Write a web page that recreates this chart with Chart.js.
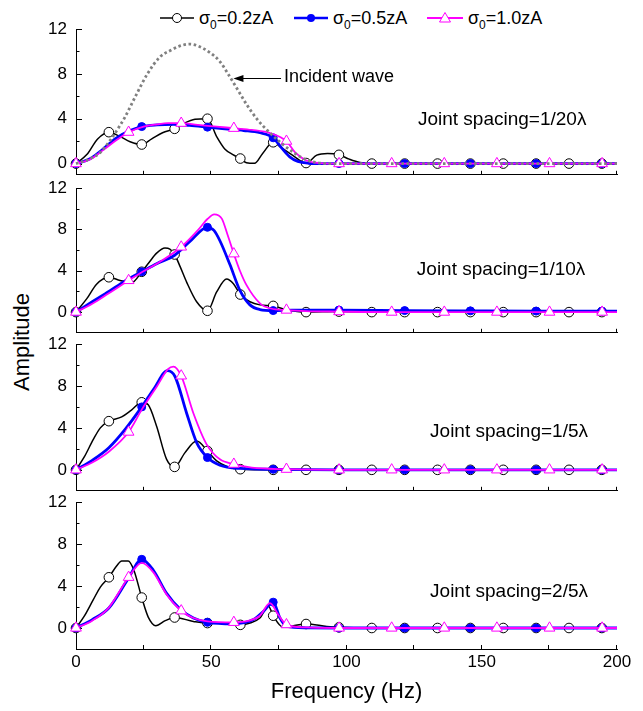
<!DOCTYPE html>
<html>
<head>
<meta charset="utf-8">
<title>Amplitude vs frequency</title>
<script src="https://cdn.jsdelivr.net/npm/chart.js@4.4.1/dist/chart.umd.min.js"></script>
<style>
  html, body { margin: 0; padding: 0; background: #fff; }
  #figure { position: relative; width: 643px; height: 711px; overflow: hidden; font-family: "Liberation Sans", Arial, sans-serif; color: #000; }
  #figure canvas { position: absolute; left: 0; }
  .legend-item { position: absolute; top: 7px; height: 22px; display: flex; align-items: center; font-size: 18px; white-space: nowrap; }
  .legend-item svg { margin-right: 5px; }
  .legend-item sub { font-size: 12px; vertical-align: -5px; line-height: 0; }
  #ytitle { position: absolute; left: 22px; top: 342px; transform: translate(-50%, -50%) rotate(-90deg); font-size: 22px; white-space: nowrap; }
</style>
</head>
<body>
<div id="figure">
  <div class="legend-item" style="left:160px">
    <svg width="34" height="16"><line x1="0" y1="8" x2="34" y2="8" stroke="#000" stroke-width="1.5"/><circle cx="17" cy="8" r="4.5" fill="#fff" stroke="#000" stroke-width="1"/></svg>
    <span>σ<sub>0</sub>=0.2zA</span>
  </div>
  <div class="legend-item" style="left:294px">
    <svg width="34" height="16"><line x1="0" y1="8" x2="34" y2="8" stroke="#0000ff" stroke-width="2.6"/><circle cx="17" cy="8" r="4" fill="#0000ff"/></svg>
    <span>σ<sub>0</sub>=0.5zA</span>
  </div>
  <div class="legend-item" style="left:427px">
    <svg width="36" height="16"><line x1="0" y1="8" x2="36" y2="8" stroke="#ff00ff" stroke-width="1.8"/><polygon points="18,2.5 23.5,12 12.5,12" fill="#fff" stroke="#ff00ff" stroke-width="1"/></svg>
    <span>σ<sub>0</sub>=1.0zA</span>
  </div>
  <div id="ytitle">Amplitude</div>
</div>

<script>
// ============================================
// DATA
// ============================================
const X_TICKS = [0, 50, 100, 150, 200]
const Y_TICKS = [0, 4, 8, 12]

// marker frequencies of each series
const MARKS_02 = [0, 12.15, 24.3, 36.45, 48.6, 60.75, 72.9, 85.05, 97.2, 109.35, 121.5, 133.65, 145.8, 157.95, 170.1, 182.25, 194.4]
const MARKS_05 = [0, 24.3, 48.6, 72.9, 97.2, 121.5, 145.8, 170.1, 194.4]
const MARKS_10 = [0, 19.45, 38.9, 58.35, 77.8, 97.25, 116.7, 136.15, 155.6, 175.05, 194.5]

const NOTES = ['Joint spacing=1/20λ', 'Joint spacing=1/10λ', 'Joint spacing=1/5λ', 'Joint spacing=2/5λ']

// Joint spacing = 1/20 lambda
const p1IncF = [0, 4, 9, 13, 16, 18, 22, 26.4, 31, 35, 38, 42, 45, 49.5, 53.2, 56.2, 60, 63, 66.8, 71, 76, 81, 85, 89, 95, 200]
const p1IncA = [0, 0.3, 1.0, 2.2, 3.3, 4.1, 6.0, 8.0, 9.5, 10.1, 10.45, 10.65, 10.5, 9.9, 9.1, 8.0, 6.5, 5.3, 4.0, 2.9, 1.8, 0.9, 0.35, 0.08, 0, 0]

const p1F02 = [0, 4, 8, 12.15, 16, 20, 24.3, 28, 32, 36.45, 40, 44, 48.6, 52, 55, 58, 60.75, 63, 66, 69, 72.9, 76, 80, 85.05, 89, 93, 97.2, 101, 105, 109.35, 121.5, 133.65, 145.8, 157.95, 170.1, 182.25, 194.4, 200]
const p1A02 = [0, 0.8, 2.2, 2.8, 2.45, 1.95, 1.7, 2.2, 2.75, 3.1, 3.6, 3.95, 4.0, 2.4, 1.3, 0.8, 0.45, 0.08, 0.02, 0.9, 1.9, 1.4, 0.75, 0.05, 0.75, 0.9, 0.78, 0.4, 0.1, 0, 0, 0, 0, 0, 0, 0, 0, 0]
const p1F05 = [0, 5, 10, 15, 20, 24.3, 30, 36, 42, 48.6, 55, 62, 68, 72.9, 76, 79, 82, 86, 90, 97.2, 121.5, 145.8, 170.1, 194.4, 200]
const p1A05 = [0, 0.4, 1.3, 2.3, 2.95, 3.3, 3.45, 3.5, 3.4, 3.25, 3.1, 2.95, 2.75, 2.3, 1.4, 0.6, 0.2, 0.03, 0, 0, 0, 0, 0, 0, 0]
const p1F10 = [0, 5, 10, 15, 19.45, 25, 30, 34, 38.9, 45, 52, 58.35, 65, 72, 77.8, 81, 85, 90, 97.25, 116.7, 136.15, 155.6, 175.05, 194.5, 200]
const p1A10 = [0, 0.35, 1.2, 2.1, 2.8, 3.3, 3.5, 3.6, 3.6, 3.45, 3.3, 3.15, 3.0, 2.7, 2.0, 1.0, 0.3, 0.05, 0, 0, 0, 0, 0, 0, 0]

// Joint spacing = 1/10 lambda
const p2F02 = [0, 4, 7.6, 12.15, 16.3, 20.6, 24.3, 27, 29.8, 32.9, 34.7, 36.45, 38.5, 40.9, 44.6, 48.6, 52, 55.7, 58.2, 60.75, 64.3, 68, 72.9, 77.9, 85.05, 97.2, 109.35, 121.5, 133.65, 145.8, 157.95, 170.1, 182.25, 194.4, 200]
const p2A02 = [0, 1.3, 2.7, 3.37, 3.06, 2.85, 3.9, 4.8, 5.7, 6.2, 6.1, 5.57, 4.4, 2.9, 1.0, 0.13, 1.95, 3.2, 2.74, 1.7, 1.0, 0.7, 0.6, 0.22, 0, 0.05, 0, 0, 0, 0, 0, 0, 0, 0, 0]
const p2F05 = [0, 6, 12.15, 18, 24.3, 30, 36.45, 42, 48.6, 51, 53.2, 56.9, 60.6, 64.3, 68, 72.9, 80, 97.2, 121.5, 145.8, 170.1, 194.4, 200]
const p2A05 = [0, 1.0, 2.0, 3.0, 3.9, 4.7, 5.5, 6.8, 8.2, 7.9, 6.9, 4.6, 2.1, 0.7, 0.25, 0.15, 0.2, 0.2, 0.15, 0.12, 0.1, 0.1, 0.1]
const p2F10 = [0, 6, 12, 19.45, 24.3, 30, 38.9, 45, 48.6, 51.1, 53.9, 56, 58.35, 60.6, 63.1, 68, 72, 77.8, 85, 97.25, 116.7, 136.15, 155.6, 175.05, 194.5, 200]
const p2A10 = [0, 0.8, 1.8, 3.06, 3.85, 4.7, 6.3, 7.9, 9.0, 9.45, 9.04, 7.5, 5.64, 4.0, 2.58, 0.85, 0.35, 0.2, 0.1, 0.05, 0, 0, 0, 0, 0, 0]

// Joint spacing = 1/5 lambda
const p3F02 = [0, 3, 6.4, 9, 12.15, 16.9, 20.5, 24.3, 26.7, 29.8, 33.5, 36.45, 40.3, 44.6, 48.6, 52, 56, 60.75, 72.9, 85.05, 97.2, 109.35, 121.5, 133.65, 145.8, 157.95, 170.1, 182.25, 194.4, 200]
const p3A02 = [0, 1.2, 2.9, 4.0, 4.64, 5.05, 5.7, 6.44, 6.2, 4.16, 1.0, 0.28, 1.64, 2.74, 1.8, 0.85, 0.3, 0.06, 0, 0, 0, 0, 0, 0, 0, 0, 0, 0, 0, 0]
const p3F05 = [0, 6, 12.15, 18, 24.3, 29, 33.8, 36.6, 40.9, 44.6, 48.6, 53.2, 60.6, 72.9, 97.2, 121.5, 145.8, 170.1, 194.4, 200]
const p3A05 = [0, 0.9, 2.1, 3.8, 6.0, 7.8, 9.46, 8.9, 5.4, 2.6, 1.17, 0.44, 0.13, 0.05, 0, 0, 0, 0, 0, 0]
const p3F10 = [0, 6, 12, 19.45, 24.3, 30, 34, 36, 38.9, 43.4, 48.3, 53.2, 58.35, 65, 77.8, 97.25, 116.7, 136.15, 155.6, 175.05, 194.5, 200]
const p3A10 = [0, 0.7, 1.7, 3.6, 5.74, 8.0, 9.6, 9.84, 8.96, 5.4, 2.43, 1.0, 0.54, 0.2, 0.06, 0, 0, 0, 0, 0, 0, 0]

// Joint spacing = 2/5 lambda
const p4F02 = [0, 3, 6.4, 9, 12.15, 15, 16.9, 19.3, 21.4, 24.3, 26.7, 29.5, 33, 36.45, 43.4, 48.6, 55.7, 60.75, 64, 68, 71.1, 72.9, 76.4, 80, 85.05, 92.7, 97.2, 109.35, 121.5, 133.65, 145.8, 157.95, 170.1, 182.25, 194.4, 200]
const p4A02 = [0, 1.1, 2.7, 3.9, 4.83, 5.9, 6.38, 6.38, 5.5, 2.9, 1.04, 0.22, 0.7, 1.0, 0.63, 0.47, 0.47, 0.3, 0.45, 0.95, 2.1, 1.17, 0.1, 0.2, 0.38, 0.15, 0.06, 0, 0, 0, 0, 0, 0, 0, 0, 0]
const p4F05 = [0, 6, 12.15, 19.3, 24.3, 28.6, 33.5, 38.4, 43.4, 48.6, 58.2, 65.6, 69.3, 72.9, 75.4, 77.9, 85, 97.2, 121.5, 145.8, 170.1, 194.4, 200]
const p4A05 = [0, 0.8, 1.9, 4.7, 6.54, 5.5, 3.3, 1.83, 0.95, 0.54, 0.4, 0.8, 1.58, 2.46, 0.95, 0.16, 0.02, 0, 0, 0, 0, 0, 0]
const p4F10 = [0, 6, 12, 19.45, 24.3, 28.6, 33.5, 38.9, 43.4, 48.6, 58.35, 64, 68, 71.7, 74.8, 77.8, 85, 97.25, 116.7, 136.15, 155.6, 175.05, 194.5, 200]
const p4A10 = [0, 0.7, 1.9, 4.83, 6.2, 5.3, 3.2, 1.64, 0.95, 0.63, 0.54, 0.7, 1.17, 2.37, 1.26, 0.32, 0.05, 0, 0, 0, 0, 0, 0, 0]

// ============================================
// LAYOUT / STYLE
// ============================================
const FONT = '"Liberation Sans", Arial, sans-serif'
const W = 643
const H = 711

const PANELS = [
    { top: 29,  bottom: 176, min: -1, note: [126.4, 3.95], s02: [p1F02, p1A02], s05: [p1F05, p1A05], s10: [p1F10, p1A10], inc: [p1IncF, p1IncA] },
    { top: 188, bottom: 334, min: -2, note: [126.0, 4.13], s02: [p2F02, p2A02], s05: [p2F05, p2A05], s10: [p2F10, p2A10] },
    { top: 344, bottom: 492, min: -2, note: [130.9, 3.59], s02: [p3F02, p3A02], s05: [p3F05, p3A05], s10: [p3F10, p3A10] },
    { top: 502, bottom: 649, min: -2, note: [130.9, 3.43], s02: [p4F02, p4A02], s05: [p4F05, p4A05], s10: [p4F10, p4A10] },
]

const STYLES = {
    s10: { color: '#ff00ff', width: 1.8, marks: MARKS_10, pointStyle: 'triangle', radius: 6.2, fill: '#fff' },
    s05: { color: '#0000ff', width: 2.8, marks: MARKS_05, pointStyle: 'circle', radius: 4, fill: '#0000ff' },
    s02: { color: '#000000', width: 1.5, marks: MARKS_02, pointStyle: 'circle', radius: 4.8, fill: '#fff' },
}

Chart.defaults.font.family = FONT
Chart.defaults.color = '#000'

// ============================================
// PLUGIN: inward ticks + text notes
// ============================================
const Y_INNER = [0, 2, 4, 6, 8, 10, 12]
const X_INNER = [25, 50, 75, 100, 125, 150, 175, 200]

const decor = {
    id: 'decor',
    beforeDatasetsDraw(chart) {
        const { ctx, chartArea: a, scales: { x, y } } = chart
        ctx.save()
        ctx.strokeStyle = '#000'
        ctx.lineWidth = 1
        ctx.beginPath()
        Y_INNER.forEach(v => {
            const py = Math.round(y.getPixelForValue(v)) + 0.5
            ctx.moveTo(a.left, py)
            ctx.lineTo(a.left + (v % 4 === 0 ? 6 : 3.5), py)
        })
        X_INNER.forEach(f => {
            const px = Math.round(x.getPixelForValue(f)) - 0.5
            ctx.moveTo(px, a.bottom)
            ctx.lineTo(px, a.bottom - 4)
        })
        ctx.stroke()
        ctx.restore()
    },
    afterDatasetsDraw(chart, args, opts) {
        const { ctx, scales: { x, y } } = chart
        ctx.save()
        ctx.fillStyle = '#000'
        ctx.textBaseline = 'middle'
        ctx.textAlign = 'left'
        ;(opts.texts || []).forEach(t => {
            ctx.font = `${t.size}px ${FONT}`
            ctx.fillText(t.text, x.getPixelForValue(t.at[0]), y.getPixelForValue(t.at[1]))
        })
        if (opts.arrow) {
            const { from, to, v } = opts.arrow
            const py = Math.round(y.getPixelForValue(v)) + 0.5
            const x1 = x.getPixelForValue(from)
            const x2 = x.getPixelForValue(to)
            ctx.strokeStyle = '#000'
            ctx.lineWidth = 1
            ctx.beginPath()
            ctx.moveTo(x1, py)
            ctx.lineTo(x2 + 6, py)
            ctx.stroke()
            ctx.beginPath()
            ctx.moveTo(x2, py)
            ctx.lineTo(x2 + 10, py - 3.5)
            ctx.lineTo(x2 + 10, py + 3.5)
            ctx.closePath()
            ctx.fill()
        }
        ctx.restore()
    }
}

// ============================================
// BUILD
// ============================================
function isMark(marks, c) {
    const p = c.raw
    return !!p && marks.some(m => Math.abs(m - p.x) < 0.01)
}

function seriesDataset(pair, st) {
    const [f, a] = pair
    return {
        data: f.map((x, i) => ({ x, y: a[i] })),
        borderColor: st.color,
        borderWidth: st.width,
        cubicInterpolationMode: 'monotone',
        pointStyle: st.pointStyle,
        pointRadius: c => isMark(st.marks, c) ? st.radius : 0,
        pointHoverRadius: 0,
        pointHitRadius: 0,
        pointBackgroundColor: st.fill,
        pointBorderColor: st.color,
        pointBorderWidth: 1,
        clip: false
    }
}

function incidentDataset(pair) {
    const [f, a] = pair
    return {
        data: f.map((x, i) => ({ x, y: a[i] })),
        borderColor: '#808080',
        borderWidth: 2.8,
        borderDash: [2.6, 2.6],
        cubicInterpolationMode: 'monotone',
        pointRadius: 0,
        pointHoverRadius: 0,
        clip: false
    }
}

function buildPanel(p, i) {
    const last = i === PANELS.length - 1
    const padTop = 14
    const padBottom = last ? 0 : 6
    const xHeight = last ? H - p.bottom : 0
    const canvas = document.createElement('canvas')
    canvas.width = W
    canvas.height = p.bottom - p.top + padTop + padBottom + xHeight
    canvas.style.top = (p.top - padTop) + 'px'
    document.getElementById('figure').appendChild(canvas)

    const datasets = []
    if (p.inc) datasets.push(incidentDataset(p.inc))
    datasets.push(seriesDataset(p.s10, STYLES.s10))
    datasets.push(seriesDataset(p.s05, STYLES.s05))
    datasets.push(seriesDataset(p.s02, STYLES.s02))

    const texts = [{ text: NOTES[i], at: p.note, size: 19 }]
    let arrow = null
    if (p.inc) {
        texts.push({ text: 'Incident wave', at: [76.9, 7.75], size: 18 })
        arrow = { from: 75.8, to: 58.2, v: 7.67 }
    }

    return new Chart(canvas, {
        type: 'line',
        data: { datasets },
        plugins: [decor],
        options: {
            responsive: false,
            animation: false,
            events: [],
            layout: { padding: { left: 0, right: W - 617, top: padTop, bottom: padBottom } },
            plugins: {
                legend: { display: false },
                tooltip: { enabled: false },
                decor: { texts, arrow }
            },
            scales: {
                x: {
                    type: 'linear',
                    min: 0,
                    max: 200,
                    grid: { display: false, drawTicks: false },
                    border: { display: true, color: '#000', width: 1 },
                    afterBuildTicks: s => { s.ticks = X_TICKS.map(v => ({ value: v })) },
                    afterFit: s => { s.height = xHeight; s.paddingLeft = 0; s.paddingRight = 0 },
                    ticks: { display: last, autoSkip: false, maxRotation: 0, padding: 3, font: { size: 17 } },
                    title: {
                        display: last,
                        text: 'Frequency (Hz)',
                        font: { size: 22 },
                        padding: { top: 0, bottom: 6 }
                    }
                },
                y: {
                    type: 'linear',
                    min: p.min,
                    max: 12,
                    grid: { display: false, drawTicks: false },
                    border: { display: true, color: '#000', width: 1 },
                    afterBuildTicks: s => { s.ticks = Y_TICKS.map(v => ({ value: v })) },
                    afterFit: s => { s.width = 76; s.paddingTop = 0; s.paddingBottom = 0 },
                    ticks: { padding: 9, font: { size: 17 } }
                }
            }
        }
    })
}

PANELS.forEach(buildPanel)
</script>
</body>
</html>
